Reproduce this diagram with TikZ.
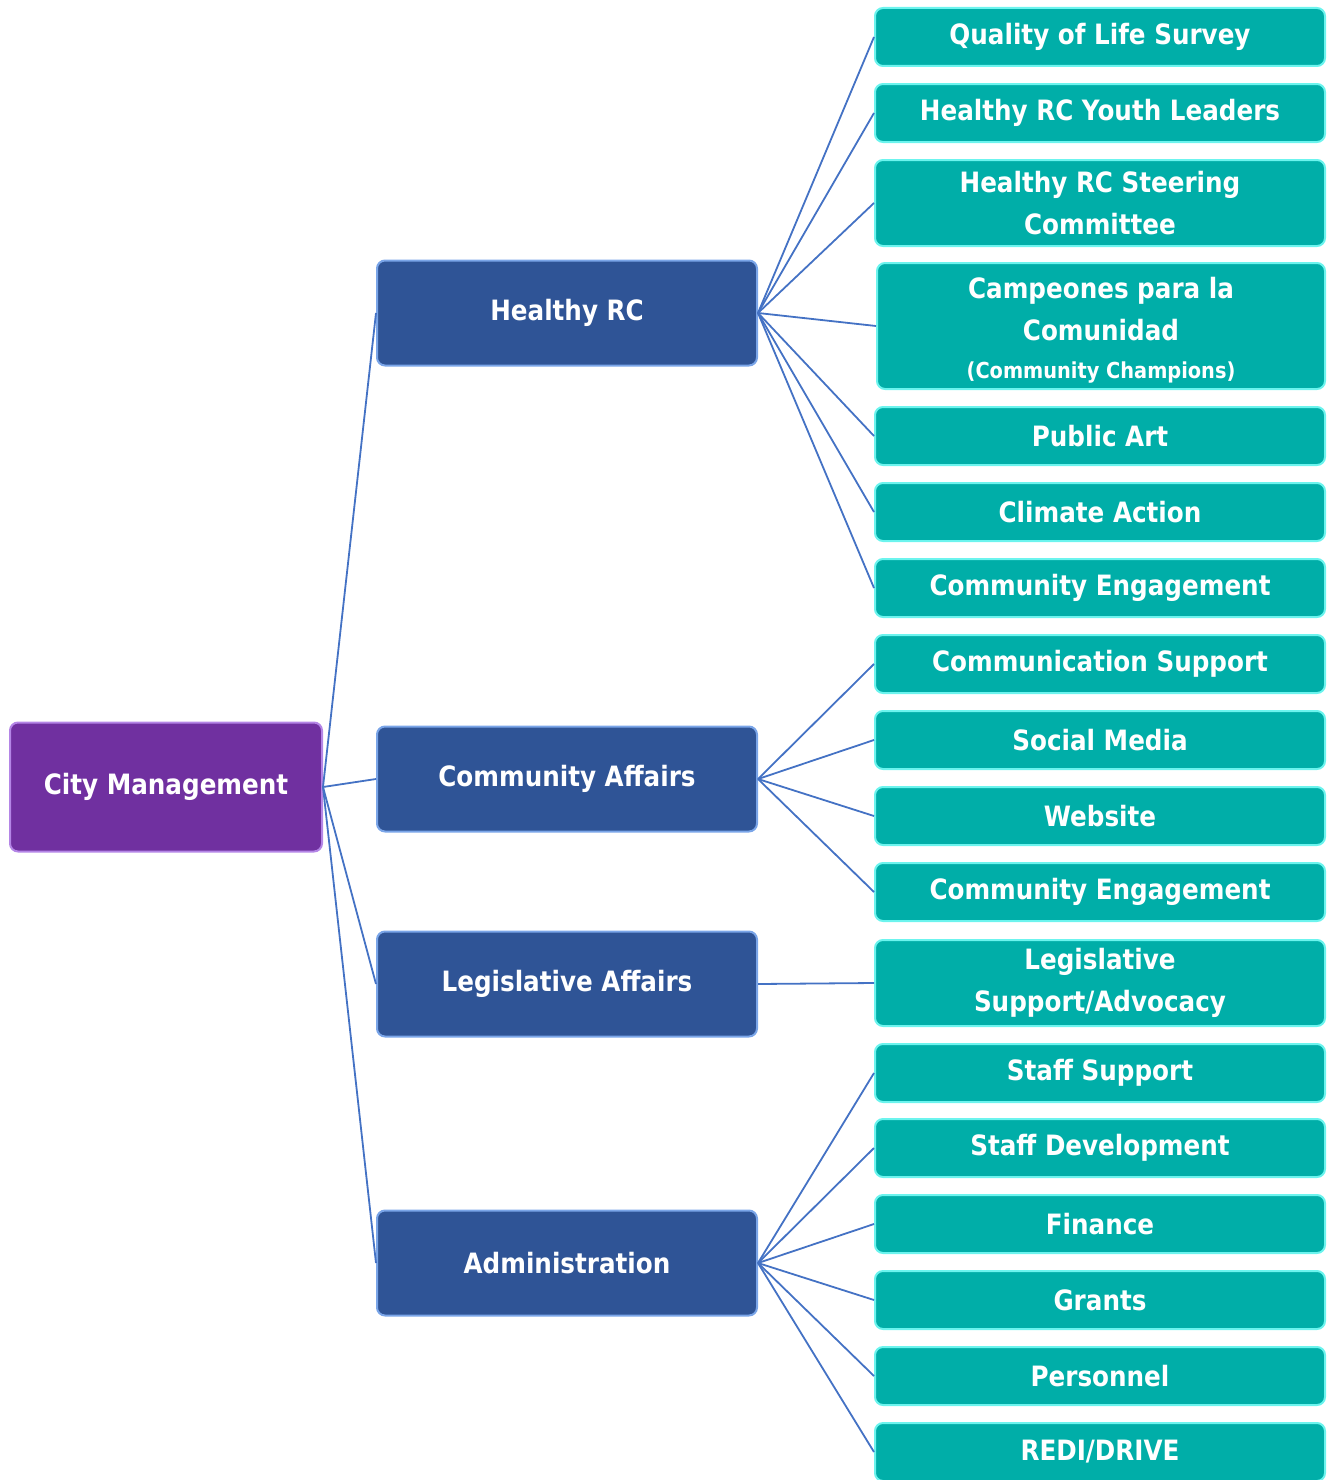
\documentclass[tikz,border=0pt]{standalone}
\usepackage{fontspec}
\setmainfont{DejaVu Sans}[FakeStretch=0.88]
\usepackage{tikz}
\usetikzlibrary{positioning}
\definecolor{rootpurple}{HTML}{7030A0}
\definecolor{rootedge}{HTML}{B485E6}
\definecolor{midblue}{HTML}{2F5496}
\definecolor{midedge}{HTML}{7AA5E8}
\definecolor{leafteal}{HTML}{00AEA8}
\definecolor{leafedge}{HTML}{6CF4EE}
\definecolor{linkblue}{HTML}{4472C4}
\begin{document}
\begin{tikzpicture}[x=1pt, y=-1pt,
    font=\bfseries\fontsize{28}{42}\selectfont,
    box/.style={rectangle, rounded corners=8pt, text=white, align=center,
      line width=2pt, inner sep=0pt},
    root/.style={box, fill=rootpurple, draw=rootedge,
      minimum width=312pt, minimum height=129pt},
    mid/.style={box, fill=midblue, draw=midedge,
      minimum width=380pt, minimum height=105pt},
    leaf/.style={box, fill=leafteal, draw=leafedge,
      minimum width=450pt, minimum height=58pt},
    link/.style={draw=linkblue, line width=1.8pt}]
  \useasboundingbox (0,0) rectangle (1327,1480);
  \begin{scope}
  \clip (0,0) rectangle (1327,1480);

  % level 1 and 2
  \node[root] (cm)  at (166, 787)  {City Management};
  \node[mid]  (hrc) at (567, 313)  {Healthy RC};
  \node[mid]  (ca)  at (567, 779)  {Community Affairs};
  \node[mid]  (la)  at (567, 984)  {Legislative Affairs};
  \node[mid]  (adm) at (567, 1263) {Administration};

  % Healthy RC programs
  \node[leaf] (qls) at (1100, 37)  {Quality of Life Survey};
  \node[leaf] (yl)  at (1100, 113) {Healthy RC Youth Leaders};
  \node[leaf, minimum height=86pt] (sc) at (1100, 203)
        {Healthy RC Steering\\Committee};
  \node[leaf, minimum height=126pt, minimum width=448pt] (cpc) at (1101, 326)
        {};
  \node[align=center, text=white] (cpctext) at (1101, 330)
        {Campeones para la\\Comunidad\\[-4pt]{\fontsize{22}{26}\selectfont (Community Champions)}};
  \node[leaf] (pa)  at (1100, 436) {Public Art};
  \node[leaf] (cla) at (1100, 512) {Climate Action};
  \node[leaf] (ce1) at (1100, 588) {Community Engagement};

  % Community Affairs programs
  \node[leaf] (cs)  at (1100, 664) {Communication Support};
  \node[leaf] (sm)  at (1100, 740) {Social Media};
  \node[leaf] (web) at (1100, 816) {Website};
  \node[leaf] (ce2) at (1100, 892) {Community Engagement};

  % Legislative Affairs programs
  \node[leaf, minimum height=86pt] (lsa) at (1100, 983)
        {Legislative\\Support/Advocacy};

  % Administration programs
  \node[leaf] (ss)  at (1100, 1073) {Staff Support};
  \node[leaf] (sd)  at (1100, 1148) {Staff Development};
  \node[leaf] (fin) at (1100, 1224) {Finance};
  \node[leaf] (gr)  at (1100, 1300) {Grants};
  \node[leaf] (per) at (1100, 1376) {Personnel};
  \node[leaf] (redi) at (1100, 1452) {REDI/DRIVE};

  % connectors
  \foreach \kid in {hrc, ca, la, adm}
    \draw[link] (cm.east) -- (\kid.west);
  \foreach \kid in {qls, yl, sc, cpc, pa, cla, ce1}
    \draw[link] (hrc.east) -- (\kid.west);
  \foreach \kid in {cs, sm, web, ce2}
    \draw[link] (ca.east) -- (\kid.west);
  \draw[link] (la.east) -- (lsa.west);
  \foreach \kid in {ss, sd, fin, gr, per, redi}
    \draw[link] (adm.east) -- (\kid.west);
  \end{scope}
\end{tikzpicture}
\end{document}
